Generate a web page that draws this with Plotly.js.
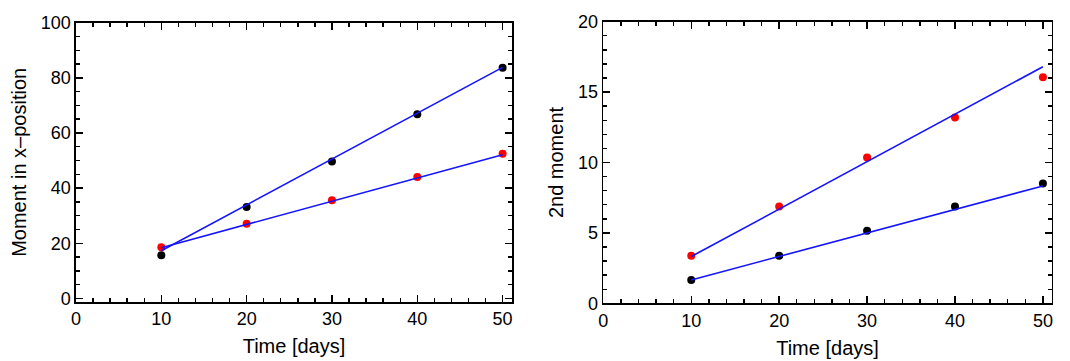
<!DOCTYPE html>
<html>
<head>
<meta charset="utf-8">
<script src="https://cdn.plot.ly/plotly-3.0.1.min.js"></script>
<style>html,body{margin:0;padding:0;background:#fff;}#chart{width:1070px;height:361px;}</style>
</head>
<body>
<div id="chart"></div>
<script>
// Data
const days = [10, 20, 30, 40, 50];
const xMomentBlack = [15.7, 33.2, 49.7, 66.8, 83.7];
const xMomentRed = [18.6, 27.1, 35.6, 44.0, 52.5];
const fitDays = [10, 50];
const xFitBlack = [17.3, 83.8];
const xFitRed = [18.4, 52.1];
const secondRed = [3.37, 6.88, 10.35, 13.2, 16.06];
const secondBlack = [1.66, 3.37, 5.15, 6.88, 8.5];
const secondFitRed = [3.32, 16.8];
const secondFitBlack = [1.66, 8.33];

const FONT = 'Liberation Sans, Arial, Helvetica, sans-serif';
const BLUE = 'rgb(20,20,255)';

function pts(x, y, color, xa, ya) {
  return {x: x, y: y, xaxis: xa, yaxis: ya, type: 'scatter', mode: 'markers',
    marker: {color: color, size: 8}, hoverinfo: 'skip', cliponaxis: false};
}
function fit(x, y, xa, ya) {
  return {x: x, y: y, xaxis: xa, yaxis: ya, type: 'scatter', mode: 'lines',
    line: {color: BLUE, width: 1.6}, hoverinfo: 'skip'};
}
// transparent helper so the mirror-tick axes get drawn
function ghost(xa, ya) {
  return {x: [days[0]], y: [days[0]], xaxis: xa, yaxis: ya, type: 'scatter', mode: 'markers',
    marker: {opacity: 0, size: 1}, hoverinfo: 'skip'};
}

const traces = [
  pts(days, xMomentBlack, 'black', 'x', 'y'),
  pts(days, xMomentRed, 'rgb(255,0,0)', 'x', 'y'),
  fit(fitDays, xFitBlack, 'x', 'y'),
  fit(fitDays, xFitRed, 'x', 'y'),
  pts(days, secondRed, 'rgb(255,0,0)', 'x2', 'y2'),
  pts(days, secondBlack, 'black', 'x2', 'y2'),
  fit(fitDays, secondFitRed, 'x2', 'y2'),
  fit(fitDays, secondFitBlack, 'x2', 'y2'),
  ghost('x3', 'y3'),
  ghost('x4', 'y4')
];

function minor(d) {
  return {dtick: d, ticks: 'inside', ticklen: 4, tickcolor: 'black', tickwidth: 1.4};
}
function axis(extra) {
  return Object.assign({
    showline: true, linecolor: 'black', linewidth: 1.6, mirror: 'allticks',
    ticks: 'inside', ticklen: 7, tickwidth: 1.4, tickcolor: 'black',
    showgrid: false, zeroline: false,
    tickfont: {family: FONT, size: 18, color: 'black'}
  }, extra);
}
// opposite-side axes that carry the small ticks along the top and right edges
function mirrorAxis(extra) {
  return Object.assign({
    ticks: 'inside', ticklen: 4, tickwidth: 1.4, tickcolor: 'black',
    showgrid: false, zeroline: false, showticklabels: false
  }, extra);
}
const TF = {family: FONT, size: 20, color: 'black'};

const layout = {
  width: 1070, height: 361,
  margin: {l: 0, r: 0, t: 0, b: 0},
  paper_bgcolor: 'white', plot_bgcolor: 'white',
  showlegend: false,
  xaxis: axis({domain: [0.07103, 0.4785], range: [0, 51.1], dtick: 10, anchor: 'y',
    minor: minor(2), title: {text: 'Time [days]', font: TF, standoff: 11}}),
  yaxis: axis({domain: [0.16343, 0.93712], range: [-1.3, 100], dtick: 20, anchor: 'x',
    minor: minor(5), title: {text: 'Moment in x\u2013position', font: TF, standoff: 9}}),
  xaxis2: axis({domain: [0.56386, 0.9829], range: [0, 51.0], dtick: 10, anchor: 'y2',
    minor: minor(2), title: {text: 'Time [days]', font: TF, standoff: 11}}),
  yaxis2: axis({domain: [0.15983, 0.93989], range: [0, 20], dtick: 5, anchor: 'x2',
    minor: minor(1), title: {text: '2nd moment', font: TF, standoff: 9}}),
  xaxis3: mirrorAxis({overlaying: 'x', anchor: 'y', side: 'top', range: [0, 51.1], dtick: 2}),
  yaxis3: mirrorAxis({overlaying: 'y', anchor: 'x', side: 'right', range: [-1.3, 100], dtick: 5}),
  xaxis4: mirrorAxis({overlaying: 'x2', anchor: 'y2', side: 'top', range: [0, 51.0], dtick: 2}),
  yaxis4: mirrorAxis({overlaying: 'y2', anchor: 'x2', side: 'right', range: [0, 20], dtick: 1})
};

Plotly.newPlot('chart', traces, layout, {displayModeBar: false, staticPlot: true});
</script>
</body>
</html>
